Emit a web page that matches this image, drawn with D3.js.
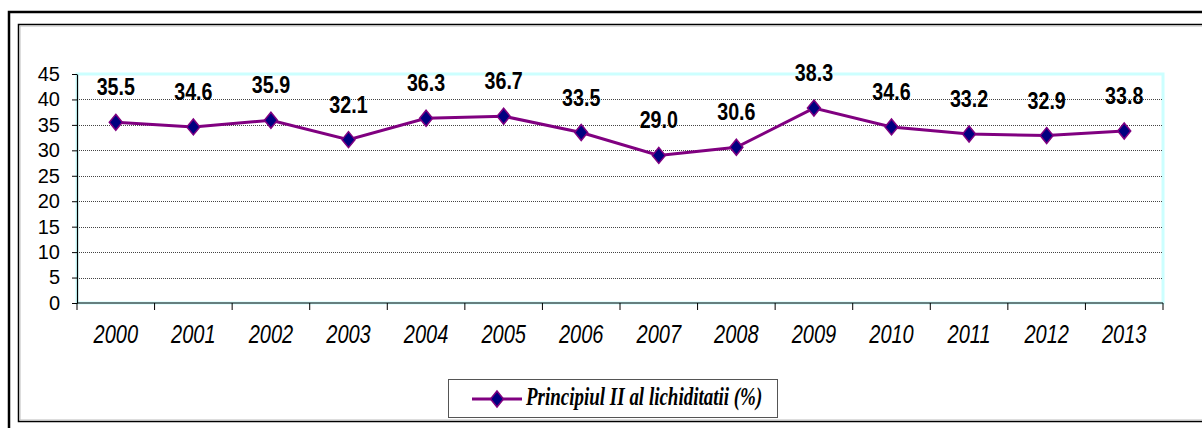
<!DOCTYPE html>
<html>
<head>
<meta charset="utf-8">
<script src="https://cdn.jsdelivr.net/npm/d3@7"></script>
<style>
  html, body { margin: 0; padding: 0; background: #fff; }
  svg { display: block; }
</style>
</head>
<body>
<svg id="chart" width="1202" height="428"></svg>
<script>
const categories = ["2000","2001","2002","2003","2004","2005","2006","2007","2008","2009","2010","2011","2012","2013"];
const values = [35.5, 34.6, 35.9, 32.1, 36.3, 36.7, 33.5, 29.0, 30.6, 38.3, 34.6, 33.2, 32.9, 33.8];
const yTicks = [0, 5, 10, 15, 20, 25, 30, 35, 40, 45];
const seriesName = "Principiul II al lichiditatii (%)";

const svg = d3.select("#chart");

// outer frames
svg.append("path").attr("d", "M9,428 V12 H1202").attr("fill", "none").attr("stroke", "#000").attr("stroke-width", 2.5);
svg.append("path").attr("d", "M1202,421.5 H18.5 V24.5 H1202").attr("fill", "none").attr("stroke", "#000").attr("stroke-width", 1.5);
svg.append("path").attr("d", "M1202,420 H20 V26 H1202").attr("fill", "none").attr("stroke", "#bbb").attr("stroke-width", 1);

const x = d3.scaleBand().domain(categories).range([77, 1163]);
const y = d3.scaleLinear().domain([0, 45]).range([303, 74]);

// plot area border (cyan)
svg.append("rect")
  .attr("x", x.range()[0]).attr("y", y(45))
  .attr("width", x.range()[1] - x.range()[0]).attr("height", y(0) - y(45))
  .attr("fill", "none").attr("stroke", "#ccffff").attr("stroke-width", 3);

// gridlines
svg.append("g").selectAll("line")
  .data(yTicks.filter(t => t > 0 && t < 45))
  .join("line")
  .attr("x1", x.range()[0]).attr("x2", x.range()[1])
  .attr("y1", d => Math.round(y(d)) + 0.5).attr("y2", d => Math.round(y(d)) + 0.5)
  .attr("stroke", "#444").attr("stroke-width", 1).attr("stroke-dasharray", "1,1");

// y axis
const yAxis = svg.append("g")
  .attr("transform", `translate(${x.range()[0]},0)`)
  .call(d3.axisLeft(y).tickValues(yTicks).tickSize(5).tickPadding(12).tickSizeOuter(0));
yAxis.select(".domain").attr("stroke", "#000").attr("stroke-width", 1.2);
yAxis.selectAll(".tick line").attr("stroke", "#000");
yAxis.selectAll("text")
  .attr("font-family", "'Liberation Sans', Arial, sans-serif")
  .attr("font-size", 20).attr("fill", "#000");

// x axis line
svg.append("line")
  .attr("x1", x.range()[0]).attr("x2", x.range()[1])
  .attr("y1", y(0)).attr("y2", y(0))
  .attr("stroke", "#000").attr("stroke-width", 1.2);

// x boundary ticks
const bounds = categories.map(c => x(c)).concat([x.range()[1]]);
svg.append("g").selectAll("line").data(bounds).join("line")
  .attr("x1", d => d).attr("x2", d => d)
  .attr("y1", y(0)).attr("y2", y(0) + 7)
  .attr("stroke", "#000").attr("stroke-width", 1);

// x labels
svg.append("g").selectAll("text").data(categories).join("text")
  .attr("transform", d => `translate(${x(d) + x.bandwidth() / 2},343) scale(1,1.25)`)
  .attr("text-anchor", "middle")
  .attr("font-family", "'Liberation Sans', Arial, sans-serif")
  .attr("font-style", "italic")
  .attr("font-size", 20)
  .attr("fill", "#000")
  .text(d => d);

// line
const cx = (d, i) => x(categories[i]) + x.bandwidth() / 2;
const line = d3.line().x((d, i) => cx(d, i)).y(d => y(d));
svg.append("path").datum(values)
  .attr("d", line).attr("fill", "none")
  .attr("stroke", "#800080").attr("stroke-width", 3);

// markers
const diamond = (w, h) => `M0,${-h} L${w},0 L0,${h} L${-w},0 Z`;
svg.append("g").selectAll("path").data(values).join("path")
  .attr("transform", (d, i) => `translate(${cx(d, i)},${y(d)})`)
  .attr("d", diamond(6.5, 8))
  .attr("fill", "#000080").attr("stroke", "#800080").attr("stroke-width", 1.5);

// data labels
svg.append("g").selectAll("text").data(values).join("text")
  .attr("transform", (d, i) => `translate(${cx(d, i)},${y(d) - 27}) scale(0.82,1)`)
  .attr("text-anchor", "middle")
  .attr("font-family", "'Liberation Sans', Arial, sans-serif")
  .attr("font-weight", "bold")
  .attr("font-size", 24)
  .attr("fill", "#000")
  .text(d => d.toFixed(1));

// legend
const lg = svg.append("g");
lg.append("rect").attr("x", 448.5).attr("y", 379.5).attr("width", 329).attr("height", 38)
  .attr("fill", "#fff").attr("stroke", "#555").attr("stroke-width", 1);
lg.append("line").attr("x1", 472).attr("x2", 522).attr("y1", 399).attr("y2", 399)
  .attr("stroke", "#800080").attr("stroke-width", 3);
lg.append("path").attr("transform", "translate(497,399)").attr("d", diamond(6.5, 8))
  .attr("fill", "#000080").attr("stroke", "#800080").attr("stroke-width", 1.5);
lg.append("text")
  .attr("transform", "translate(526,405) scale(1,1.3)")
  .attr("font-family", "'Liberation Serif', 'Times New Roman', serif")
  .attr("font-weight", "bold").attr("font-style", "italic")
  .attr("font-size", 19).attr("fill", "#000")
  .text(seriesName);
</script>
</body>
</html>
